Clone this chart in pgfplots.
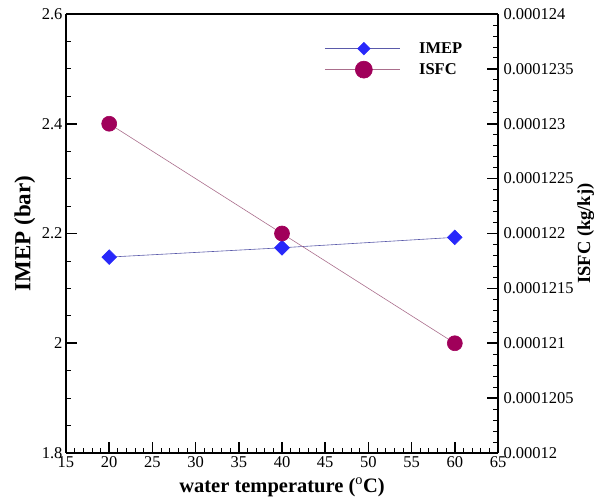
\documentclass[border=0pt]{standalone}
\usepackage{pgfplots}
\pgfplotsset{compat=1.18}
\usepackage{fontspec}
\setmainfont{Liberation Serif}
\definecolor{imepc}{RGB}{40,40,250}
\definecolor{imepl}{RGB}{90,90,170}
\definecolor{isfcc}{RGB}{160,0,90}
\definecolor{isfcl}{RGB}{170,110,140}
\begin{document}
\begin{tikzpicture}
\pgfplotsset{
  every axis/.append style={
    scale only axis, width=432pt, height=439pt,
    xmin=15, xmax=65,
    axis line style={line width=1.6pt, -},
    tick align=inside,
    major tick length=11pt, minor tick length=5pt,
    every major tick/.append style={draw=black, line width=1.6pt},
    every minor tick/.append style={draw=black, line width=0.8pt},
    tick label style={font=\fontsize{16.5}{18}\selectfont},
    /pgf/number format/assume math mode=true,
  }
}
\begin{axis}[
  at={(0pt,0pt)}, anchor=south west,
  axis x line*=bottom, axis y line*=left,
  ymin=1.8, ymax=2.6,
  xtick={15,20,...,65},
  minor x tick num=4,
  ytick={1.8,2,2.2,2.4,2.6},
  yticklabels={1.8,2,2.2,2.4,2.6},
  minor y tick num=3,
  xlabel={water temperature ($^{\mathrm{o}}$C)},
  ylabel={IMEP (bar)},
  xlabel style={at={(axis description cs:0.5,-0.078)}, anchor=center, font=\fontsize{20.5}{22}\selectfont\bfseries},
  ylabel style={at={(axis description cs:-0.095,0.5)}, anchor=center, font=\fontsize{23}{25}\selectfont\bfseries},
]
\addplot[imepl, line width=0.6pt, mark=square*, mark size=5.2pt,
  mark options={rotate=45, fill=imepc, draw=imepc}]
  coordinates {(20,2.157) (40,2.174) (60,2.193)};
\end{axis}
\begin{axis}[
  at={(0pt,0pt)}, anchor=south west,
  ymin=0.000120, ymax=0.000124,
  axis x line*=top, xtick=\empty,
  axis y line*=right,
  ytick={0.000120,0.0001205,0.000121,0.0001215,0.000122,0.0001225,0.000123,0.0001235,0.000124},
  yticklabels={0.00012,0.0001205,0.000121,0.0001215,0.000122,0.0001225,0.000123,0.0001235,0.000124},
  yticklabel style={xshift=2pt},
  minor y tick num=4,
  scaled y ticks=false,
  ylabel={ISFC (kg/kj)},
  ylabel style={at={(axis description cs:1.203,0.5)}, anchor=center, font=\fontsize{18.5}{20}\selectfont\bfseries},
  legend style={draw=none, fill=none, at={(0.598,0.94)}, anchor=north west,
    font=\fontsize{16.5}{18}\selectfont\bfseries, row sep=4pt,
    legend cell align=left, inner sep=0pt,
    nodes={inner sep=2pt}},
]
\addlegendimage{legend image code/.code={
  \draw[imepl, line width=0.6pt] (0pt,0pt) -- (75pt,0pt);
  \draw[imepc, fill=imepc, rotate around={45:(39pt,0pt)}] (34.5pt,-4.5pt) rectangle (43.5pt,4.5pt);
  \path (92pt,0pt);
}}
\addlegendentry{IMEP}
\addplot[isfcl, line width=0.6pt, mark=*, mark size=7.5pt,
  mark options={fill=isfcc, draw=isfcc},
  legend image code/.code={
  \draw[isfcl, line width=0.6pt] (0pt,0pt) -- (75pt,0pt);
  \fill[isfcc] (39pt,0pt) circle (8.5pt);
  \path (92pt,0pt);
  }]
  coordinates {(20,0.000123) (40,0.000122) (60,0.000121)};
\addlegendentry{ISFC}
\end{axis}
\pgfresetboundingbox
\path[use as bounding box] (-66pt,-44pt) rectangle (528pt,453pt);
\end{tikzpicture}
\end{document}
